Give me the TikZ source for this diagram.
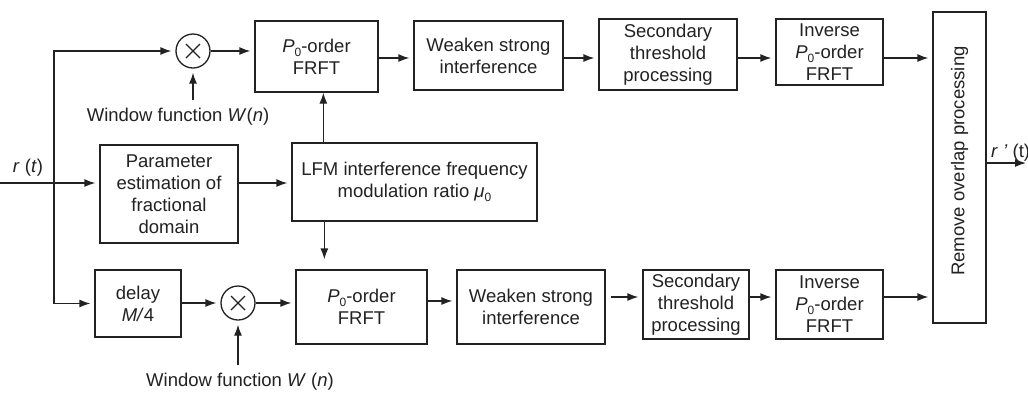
\documentclass[tikz,border=0pt]{standalone}
\usepackage{fontspec}
\setmainfont{Liberation Sans}
\usetikzlibrary{arrows.meta,calc}
\newcommand\lowsub[1]{\raisebox{-0.4ex}{\fontsize{12}{12}\selectfont #1}}
\definecolor{ink}{HTML}{222222}
\tikzset{
  box/.style={draw=ink, line width=1.3pt, align=center, inner sep=0pt, text=ink},
  lbl/.style={align=center, inner sep=0pt, text=ink},
  arr/.style={draw=ink, line width=1.3pt, -{Latex[length=11pt,width=8pt]}, shorten >=4pt},
  ln/.style={draw=ink, line width=1.3pt},
  mul/.style={draw=ink, line width=1.3pt, circle, minimum size=34pt, inner sep=0pt}
}
\begin{document}
\begin{tikzpicture}[x=1pt,y=-1pt, font=\fontsize{18.5}{22}\selectfont]
\useasboundingbox[fill=white] (0,0) rectangle (1028,392);
% top row
\node[mul] (mt) at (193,51) {};
\draw[ln] ($(mt.center)+(-7,-7)$) -- ($(mt.center)+(7,7)$) ($(mt.center)+(-7,7)$) -- ($(mt.center)+(7,-7)$);
\node[box, minimum width=123pt, minimum height=71pt] (tf) at (316.5,56.5) {\textit{P}\lowsub{0}-order\\FRFT};
\node[box, minimum width=149pt, minimum height=69pt] (tw) at (488.5,55.5) {Weaken strong\\interference};
\node[box, minimum width=138pt, minimum height=71pt] (ts) at (668,54.5) {Secondary\\threshold\\processing};
\node[box, minimum width=107pt, minimum height=66pt] (ti) at (829.5,52) {Inverse\\\textit{P}\lowsub{0}-order\\FRFT};
\node[box, minimum width=53pt, minimum height=311pt] (rm) at (959.5,167.5) {};
\node[lbl, rotate=90] (rmt) at (959.5,161) {Remove overlap processing};
% middle
\node[box, minimum width=138pt, minimum height=98pt] (pe) at (169,194) {Parameter\\estimation of\\fractional\\domain};
\node[box, minimum width=245pt, minimum height=78pt] (lfm) at (414.5,182) {LFM interference frequency\\modulation ratio \textit{μ}\lowsub{0}};
% bottom row
\node[box, minimum width=86pt, minimum height=67pt] (dl) at (138,303.5) {delay\\\textit{M/}4};
\node[mul] (mb) at (238,303) {};
\draw[ln] ($(mb.center)+(-7,-7)$) -- ($(mb.center)+(7,7)$) ($(mb.center)+(-7,7)$) -- ($(mb.center)+(7,-7)$);
\node[box, minimum width=131pt, minimum height=74pt] (bf) at (361.5,307) {\textit{P}\lowsub{0}-order\\FRFT};
\node[box, minimum width=148pt, minimum height=74pt] (bw) at (531,307) {Weaken strong\\interference};
\node[box, minimum width=106pt, minimum height=69pt] (bs) at (696,304.5) {Secondary\\threshold\\processing};
\node[box, minimum width=107pt, minimum height=69pt] (bi) at (829.5,304.5) {Inverse\\\textit{P}\lowsub{0}-order\\FRFT};
% labels
\node[lbl] (rin) at (28,168) {\textit{r} (\textit{t})};
\node[lbl, anchor=west] (rout) at (991,153) {\textit{r} \textit{'} (t)};
\node[lbl] (wt) at (178,117) {Window function \textit{W}(\textit{n})};
\node[lbl] (wb) at (240,382) {Window function \textit{W} (\textit{n})};
% coordinates
\coordinate (in) at (0,183);
\coordinate (split) at (54,183);
\coordinate (wtop) at (193,100);
\coordinate (wbot) at (238,365);
\coordinate (out) at (1026,163);
% connectors
\draw[arr] (in) -- (pe.west |- in);
\draw[arr] (split) |- (mt.west);
\draw[arr] (split) |- (dl.west);
\draw[arr] (wtop) -- (mt.south);
\draw[arr] (wbot) -- (mb.south);
\draw[arr] (mt.east) -- (tf.west |- mt.east);
\draw[arr] (tf.east |- 0,58) -- (tw.west |- 0,58);
\draw[arr] (tw.east |- 0,58) -- (ts.west |- 0,58);
\draw[arr] (ts.east |- 0,58) -- (ti.west |- 0,58);
\draw[arr] (ti.east |- 0,58) -- (rm.west |- 0,58);
\draw[arr] (pe.east |- 0,183) -- (lfm.west |- 0,183);
\draw[arr, shorten >=0pt] ([xshift=32pt]lfm.north west) -- ([xshift=32pt]lfm.north west |- tf.south);
\draw[arr, shorten >=10pt] ([xshift=33pt]lfm.south west) -- ([xshift=33pt]lfm.south west |- bf.north);
\draw[arr] (dl.east |- mb.west) -- (mb.west);
\draw[arr] (mb.east) -- (bf.west |- mb.east);
\draw[arr] (bf.east |- 0,301) -- (bw.west |- 0,301);
\draw[arr] ([xshift=5pt]bw.east |- 0,297) -- (bs.west |- 0,297);
\draw[arr] (bs.east |- 0,297) -- (bi.west |- 0,297);
\draw[arr] (bi.east |- 0,297) -- (rm.west |- 0,297);
\draw[arr, shorten >=0pt] (rm.east |- out) -- (out);
\end{tikzpicture}
\end{document}
